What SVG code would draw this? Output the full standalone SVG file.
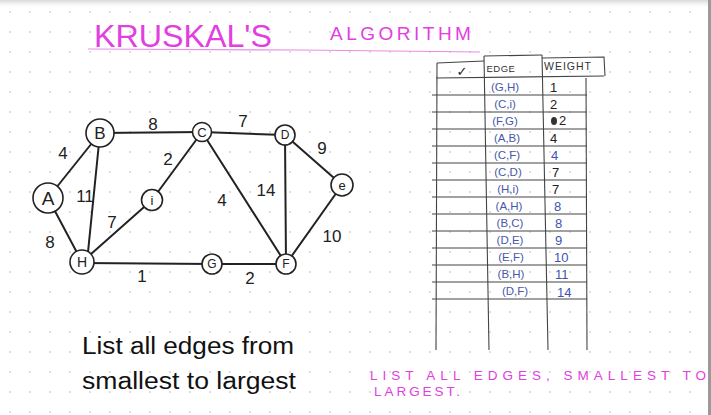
<svg xmlns="http://www.w3.org/2000/svg" width="711" height="415" viewBox="0 0 711 415">
<defs>
<pattern id="dots" width="20" height="20" patternUnits="userSpaceOnUse"><circle cx="10" cy="12" r="0.9" fill="#cfcfcf"/></pattern>
<linearGradient id="topband" x1="0" y1="0" x2="0" y2="1"><stop offset="0" stop-color="#d8d8d8"/><stop offset="1" stop-color="#ffffff" stop-opacity="0"/></linearGradient>
<style>
.node{fill:#fff;stroke:#222;stroke-width:1.6}
.nl{font-family:"Liberation Sans",Arial,sans-serif;fill:#222;text-anchor:middle;dominant-baseline:central}
.edge{stroke:#222;stroke-width:2;fill:none;stroke-linecap:round}
.wl{font-family:"Liberation Sans",Arial,sans-serif;font-size:17px;fill:#222;text-anchor:middle;dominant-baseline:central}
.pink{font-family:"Liberation Sans",Arial,sans-serif;fill:#e23ee0}
.tl{stroke:#444;stroke-width:1.1;fill:none}
.te{font-family:"Liberation Sans",Arial,sans-serif;font-size:11.5px;fill:#4a58a8;text-anchor:middle;dominant-baseline:central}
.tw{font-family:"Liberation Sans",Arial,sans-serif;font-size:13px;fill:#222;dominant-baseline:central}
.blue{fill:#3f52b0}
.note{font-family:"Liberation Sans",Arial,sans-serif;font-size:23px;fill:#111}
</style>
</defs>
<rect width="711" height="415" fill="#ffffff"/>
<rect width="711" height="415" fill="url(#dots)"/>
<rect width="711" height="9" fill="url(#topband)"/>
<rect x="708" y="0" width="3" height="415" fill="#9a9a9a"/>

<g id="title">
<text class="pink" x="94" y="47" font-size="32" textLength="178" lengthAdjust="spacingAndGlyphs">KRUSKAL'S</text>
<text class="pink" x="330" y="40" font-size="19" letter-spacing="3.5">ALGORITHM</text>
<path d="M88 49 L300 50 L480 52" stroke="#e88ee6" stroke-width="1.2" fill="none"/>
</g>

<g id="connectors">
<line class="edge" x1="48" y1="198" x2="100" y2="133"/>
<line class="edge" x1="48" y1="198" x2="82" y2="262"/>
<line class="edge" x1="100" y1="133" x2="87" y2="262"/>
<line class="edge" x1="100" y1="133" x2="202" y2="132"/>
<line class="edge" x1="82" y1="262" x2="152" y2="200"/>
<line class="edge" x1="152" y1="200" x2="202" y2="132"/>
<line class="edge" x1="202" y1="132" x2="285" y2="135"/>
<line class="edge" x1="202" y1="132" x2="286" y2="264"/>
<line class="edge" x1="285" y1="135" x2="286" y2="264"/>
<line class="edge" x1="285" y1="135" x2="342" y2="185"/>
<line class="edge" x1="342" y1="185" x2="286" y2="264"/>
<line class="edge" x1="82" y1="263" x2="212" y2="264"/>
<line class="edge" x1="212" y1="264" x2="286" y2="264"/>
</g>

<g id="edge-labels">
<text class="wl" x="63" y="153">4</text>
<text class="wl" x="153" y="124">8</text>
<text class="wl" x="85" y="196">11</text>
<text class="wl" x="168" y="159">2</text>
<text class="wl" x="112" y="222">7</text>
<text class="wl" x="50" y="242">8</text>
<text class="wl" x="142" y="276">1</text>
<text class="wl" x="243" y="121">7</text>
<text class="wl" x="322" y="148">9</text>
<text class="wl" x="266" y="190">14</text>
<text class="wl" x="222" y="200">4</text>
<text class="wl" x="332" y="236">10</text>
<text class="wl" x="250" y="278">2</text>
</g>

<g id="node-A"><circle class="node" cx="48" cy="198" r="15"/><text class="nl" x="48" y="198" font-size="19">A</text></g>
<g id="node-B"><circle class="node" cx="100" cy="133" r="14"/><text class="nl" x="100" y="133" font-size="17">B</text></g>
<g id="node-C"><circle class="node" cx="202" cy="132" r="9.5"/><text class="nl" x="202" y="132" font-size="13">C</text></g>
<g id="node-D"><circle class="node" cx="285" cy="135" r="10"/><text class="nl" x="285" y="135" font-size="12">D</text></g>
<g id="node-e"><circle class="node" cx="342" cy="185" r="11"/><text class="nl" x="342" y="185" font-size="13">e</text></g>
<g id="node-F"><circle class="node" cx="286" cy="264" r="10"/><text class="nl" x="286" y="264" font-size="12">F</text></g>
<g id="node-G"><circle class="node" cx="212" cy="264" r="10"/><text class="nl" x="212" y="264" font-size="12">G</text></g>
<g id="node-H"><circle class="node" cx="82" cy="262" r="12"/><text class="nl" x="82" y="262" font-size="14">H</text></g>
<g id="node-i"><circle class="node" cx="152" cy="200" r="10.5"/><text class="nl" x="152" y="200" font-size="13">i</text></g>

<g id="table">
<path class="tl" d="M437 63 L484 61 M484 56 L542 55 M542 58 L604 57 L605 76"/>
<path class="tl" d="M437 63 L436 350"/>
<path class="tl" d="M484 56 L489 350"/>
<path class="tl" d="M542 55 L548 350"/>
<path class="tl" d="M586 78 L587 350"/>
<path class="tl" d="M436 78 L604 76"/>
<path class="tl" d="M432 95 L587 95 M432 112 L587 112 M432 129 L587 129 M432 146 L587 146 M432 163 L587 163 M432 180 L587 180 M432 197 L587 197 M432 214 L587 214 M432 231 L587 231 M432 248 L587 248 M432 265 L587 265 M432 282 L587 282 M432 299 L587 299"/>
<text x="462" y="71" font-family="DejaVu Sans,sans-serif" font-size="13" fill="#222" text-anchor="middle" dominant-baseline="central">✓</text>
<text x="501" y="68" font-family="Liberation Sans,Arial,sans-serif" font-size="9.5" fill="#333" text-anchor="middle" dominant-baseline="central" letter-spacing="0.5">EDGE</text>
<text x="544" y="66" font-family="Liberation Sans,Arial,sans-serif" font-size="10.5" fill="#333" dominant-baseline="central" letter-spacing="1">WEIGHT</text>
<text class="te" x="505" y="87">(G,H)</text>
<text class="te" x="505" y="104">(C,i)</text>
<text class="te" x="505" y="121">(F,G)</text>
<text class="te" x="507" y="138" fill="#333">(A,B)</text>
<text class="te" x="507" y="155">(C,F)</text>
<text class="te" x="508" y="172" fill="#333">(C,D)</text>
<text class="te" x="508" y="189" fill="#333">(H,i)</text>
<text class="te" x="509" y="206">(A,H)</text>
<text class="te" x="510" y="223">(B,C)</text>
<text class="te" x="510" y="240">(D,E)</text>
<text class="te" x="511" y="257">(E,F)</text>
<text class="te" x="511" y="274">(B,H)</text>
<text class="te" x="515" y="291">(D,F)</text>
<text class="tw" x="550" y="87">1</text>
<text class="tw" x="550" y="104">2</text>
<ellipse cx="554" cy="121" rx="3" ry="4" fill="#333"/>
<text class="tw" x="559" y="120">2</text>
<text class="tw" x="550" y="138">4</text>
<text class="tw blue" x="551" y="155">4</text>
<text class="tw" x="552" y="172">7</text>
<text class="tw" x="552" y="189">7</text>
<text class="tw blue" x="554" y="206">8</text>
<text class="tw blue" x="555" y="223">8</text>
<text class="tw blue" x="555" y="240">9</text>
<text class="tw blue" x="554" y="257">10</text>
<text class="tw blue" x="555" y="274">11</text>
<text class="tw blue" x="557" y="292">14</text>
</g>

<g id="note">
<text class="note" x="82" y="354" textLength="212" lengthAdjust="spacingAndGlyphs">List all edges from</text>
<text class="note" x="82" y="389" textLength="214" lengthAdjust="spacingAndGlyphs">smallest to largest</text>
</g>

<g id="pink-note">
<text class="pink" x="370" y="380" font-size="13.5" fill="#e684e4" textLength="336" lengthAdjust="spacing">LIST  ALL  EDGES,  SMALLEST TO</text>
<text class="pink" x="374" y="396" font-size="13.5" fill="#e684e4" textLength="86" lengthAdjust="spacing">LARGEST.</text>
</g>
</svg>
